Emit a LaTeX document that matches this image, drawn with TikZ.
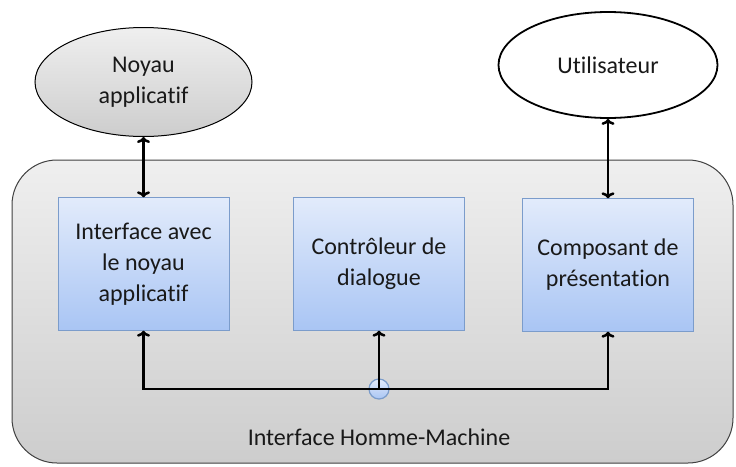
\documentclass[tikz,border=0pt]{standalone}
\usepackage{fontspec}
\setmainfont{Carlito}[Ligatures=NoCommon]
\usetikzlibrary{shapes.geometric, arrows.meta}

\definecolor{bleuhaut}{HTML}{E2EBFB}
\definecolor{bleubas}{HTML}{A9C5F4}
\definecolor{bleubord}{HTML}{7B9CCB}
\definecolor{grishaut}{HTML}{EFEFEF}
\definecolor{grisbas}{HTML}{CDCDCD}

\begin{document}
\begin{tikzpicture}[x=1pt, y=-1pt,
    every node/.style={font=\fontsize{24}{31}\selectfont, align=center, text=black!90},
    bloc/.style={draw=bleubord, top color=bleuhaut, bottom color=bleubas, minimum width=171pt, minimum height=133pt, inner sep=0pt},
    acteur/.style={ellipse, draw, inner sep=0pt},
    fleche/.style={line width=2.5pt, -{To[length=6pt, width=13pt, line width=2.5pt]}},
    double/.style={line width=2.5pt, {To[length=6pt, width=13pt, line width=2.5pt]}-{To[length=6pt, width=13pt, line width=2.5pt]}}]
    \useasboundingbox (0, 0) rectangle (736, 466);

    % cadre de l'IHM
    \node[draw=black!75, line width=1pt, rounded corners=45pt, top color=grishaut, bottom color=grisbas,
          minimum width=721pt, minimum height=303pt] (ihm) at (372.5, 311.5) {};
    \node (titre) at (379, 437) {Interface Homme-Machine};

    % acteurs externes
    \node[acteur, line width=1pt, top color=grishaut, bottom color=grisbas, minimum width=217pt, minimum height=109pt] (noyau) at (143.5, 82) {Noyau\\applicatif};
    \node[acteur, line width=1.8pt, fill=white, minimum width=219pt, minimum height=106pt] (utilisateur) at (608, 65) {Utilisateur};

    % composants
    \node[bloc] (interface) at (143.5, 264) {Interface avec\\le noyau\\applicatif};
    \node[bloc] (controleur) at (379, 264) {Contrôleur de\\dialogue};
    \node[bloc] (composant) at (608, 265) {Composant de\\présentation};

    \draw[double] (noyau) -- (interface);
    \draw[double] (utilisateur) -- (composant);

    % bus du bas
    \node[circle, draw=bleubord, top color=bleuhaut, bottom color=bleubas, line width=1.2pt, minimum size=20pt, inner sep=0pt] (jonction) at (379, 389) {};
    \draw[fleche] (jonction.center) -- (controleur);
    \draw[fleche] (jonction.center) -| (interface);
    \draw[fleche] (jonction.center) -| (composant);
\end{tikzpicture}
\end{document}
